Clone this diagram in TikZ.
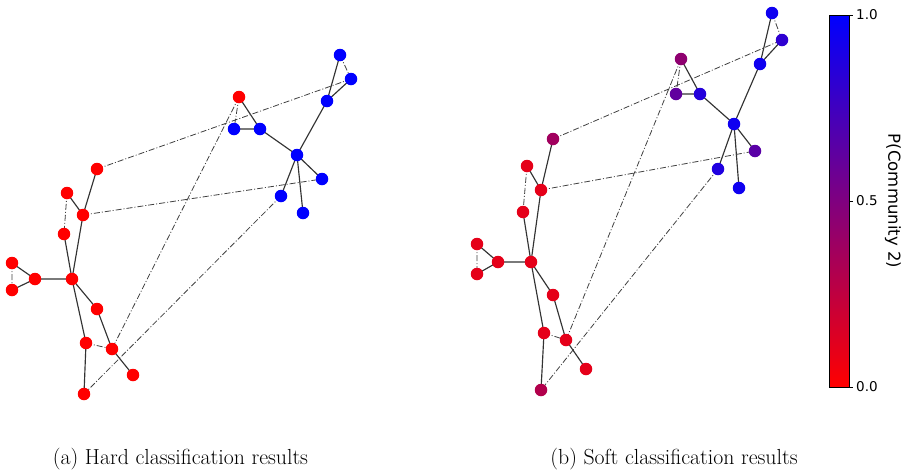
\documentclass[tikz,border=0pt]{standalone}
\usepackage{fontspec}
\newfontfamily\cbfont{DejaVu Sans}
\begin{document}
\begin{tikzpicture}[x=1pt,y=-1pt,
  vtx/.style={circle,inner sep=0pt,minimum size=12.5pt,fill=#1},
  solidedge/.style={draw=black!80,line width=1.15pt},
  dd/.style={draw=black!75,line width=0.8pt,dash pattern=on 6pt off 2pt on 1pt off 2pt},
  ticklab/.style={font=\cbfont\fontsize{13.5}{16}\selectfont,anchor=west,inner sep=0pt},
  caption/.style={font=\fontsize{21.8}{26}\selectfont,inner sep=0pt}]
\useasboundingbox (0,0) rectangle (908,475);
% ---------- panel (a) ----------
\coordinate (a1) at (97,169);
\coordinate (a2) at (67,193);
\coordinate (a3) at (83,215);
\coordinate (a4) at (64,234);
\coordinate (a5) at (12,263);
\coordinate (a6) at (12,290);
\coordinate (a7) at (35,279);
\coordinate (a8) at (72,279);
\coordinate (a9) at (97,309);
\coordinate (a10) at (86,343);
\coordinate (a11) at (112,349);
\coordinate (a12) at (133,375);
\coordinate (a13) at (84,394);
\coordinate (b1) at (239,97);
\coordinate (b2) at (234,129);
\coordinate (b3) at (260,129);
\coordinate (b4) at (297,155);
\coordinate (b5) at (322,179);
\coordinate (b6) at (281,196);
\coordinate (b7) at (303,213);
\coordinate (b8) at (327,101);
\coordinate (b9) at (340,55);
\coordinate (b10) at (351,79);
% ---------- panel (b) ----------
\coordinate (c1) at (553,139);
\coordinate (c2) at (527,166);
\coordinate (c3) at (541,190);
\coordinate (c4) at (523,212);
\coordinate (c5) at (477,244);
\coordinate (c6) at (477,274);
\coordinate (c7) at (498,262);
\coordinate (c8) at (531,262);
\coordinate (c9) at (553,295);
\coordinate (c10) at (544,333);
\coordinate (c11) at (566,340);
\coordinate (c12) at (586,369);
\coordinate (c13) at (541,390);
\coordinate (d1) at (681,59);
\coordinate (d2) at (676,94);
\coordinate (d3) at (700,94);
\coordinate (d4) at (734,124);
\coordinate (d5) at (755,151);
\coordinate (d6) at (718,169);
\coordinate (d7) at (739,188);
\coordinate (d8) at (760,64);
\coordinate (d9) at (772,13);
\coordinate (d10) at (782,40);
% edges for both panels
\foreach \p/\q in {a/b,c/d}{
  \draw[solidedge] (\p1)--(\p3) (\p2)--(\p3) (\p3)--(\p8) (\p4)--(\p8)
    (\p5)--(\p7) (\p6)--(\p7) (\p7)--(\p8) (\p8)--(\p9) (\p8)--(\p10)
    (\p9)--(\p11) (\p11)--(\p12) (\p10)--(\p13)
    (\q1)--(\q3) (\q2)--(\q3) (\q3)--(\q4) (\q4)--(\q5) (\q4)--(\q6)
    (\q4)--(\q7) (\q4)--(\q8) (\q8)--(\q9) (\q8)--(\q10);
  \draw[dd] (\p2)--(\p4) (\p5)--(\p6) (\p10)--(\p11)
    (\p1)--(\q10) (\p3)--(\q5) (\q1)--(\p11) (\q1)--(\q2) (\q6)--(\p13)
    (\q9)--(\q10);
}
% nodes panel (a)
\foreach \i in {1,...,13}{\node[vtx=red] (na\i) at (a\i) {};}
\node[vtx=red] (nb1) at (b1) {};
\foreach \i in {2,...,10}{\node[vtx=blue] (nb\i) at (b\i) {};}
% nodes panel (b)
\foreach \i/\v in {1/37,2/10,3/10,4/10,5/10,6/10,7/10,8/10,9/10,10/10,11/10,12/10,13/30}{
  \node[vtx=blue!\v!red] (nc\i) at (c\i) {};}
\foreach \i/\v in {1/44,2/62,3/86,4/94,5/65,6/88,7/94,8/94,9/94,10/82}{
  \node[vtx=blue!\v!red] (nd\i) at (d\i) {};}
% colorbar
\shade[bottom color=red,top color=blue] (829,15) rectangle (849,387);
\draw[black,line width=0.6pt] (829,15) rectangle (849,387);
\foreach \y/\t in {15/1.0,201/0.5,387/0.0}{
  \draw[black,line width=0.6pt] (849,\y)--(853,\y);
  \node[ticklab] (tk\t) at (856,\y) {\t};}
\node[font=\cbfont\fontsize{16.5}{19}\selectfont,rotate=-90] (cblab) at (893,201) {P(Community 2)};
% captions
\node[caption] (capa) at (180.5,459) {(a) Hard classification results};
\node[caption] (capb) at (674,459) {(b) Soft classification results};
\end{tikzpicture}
\end{document}
